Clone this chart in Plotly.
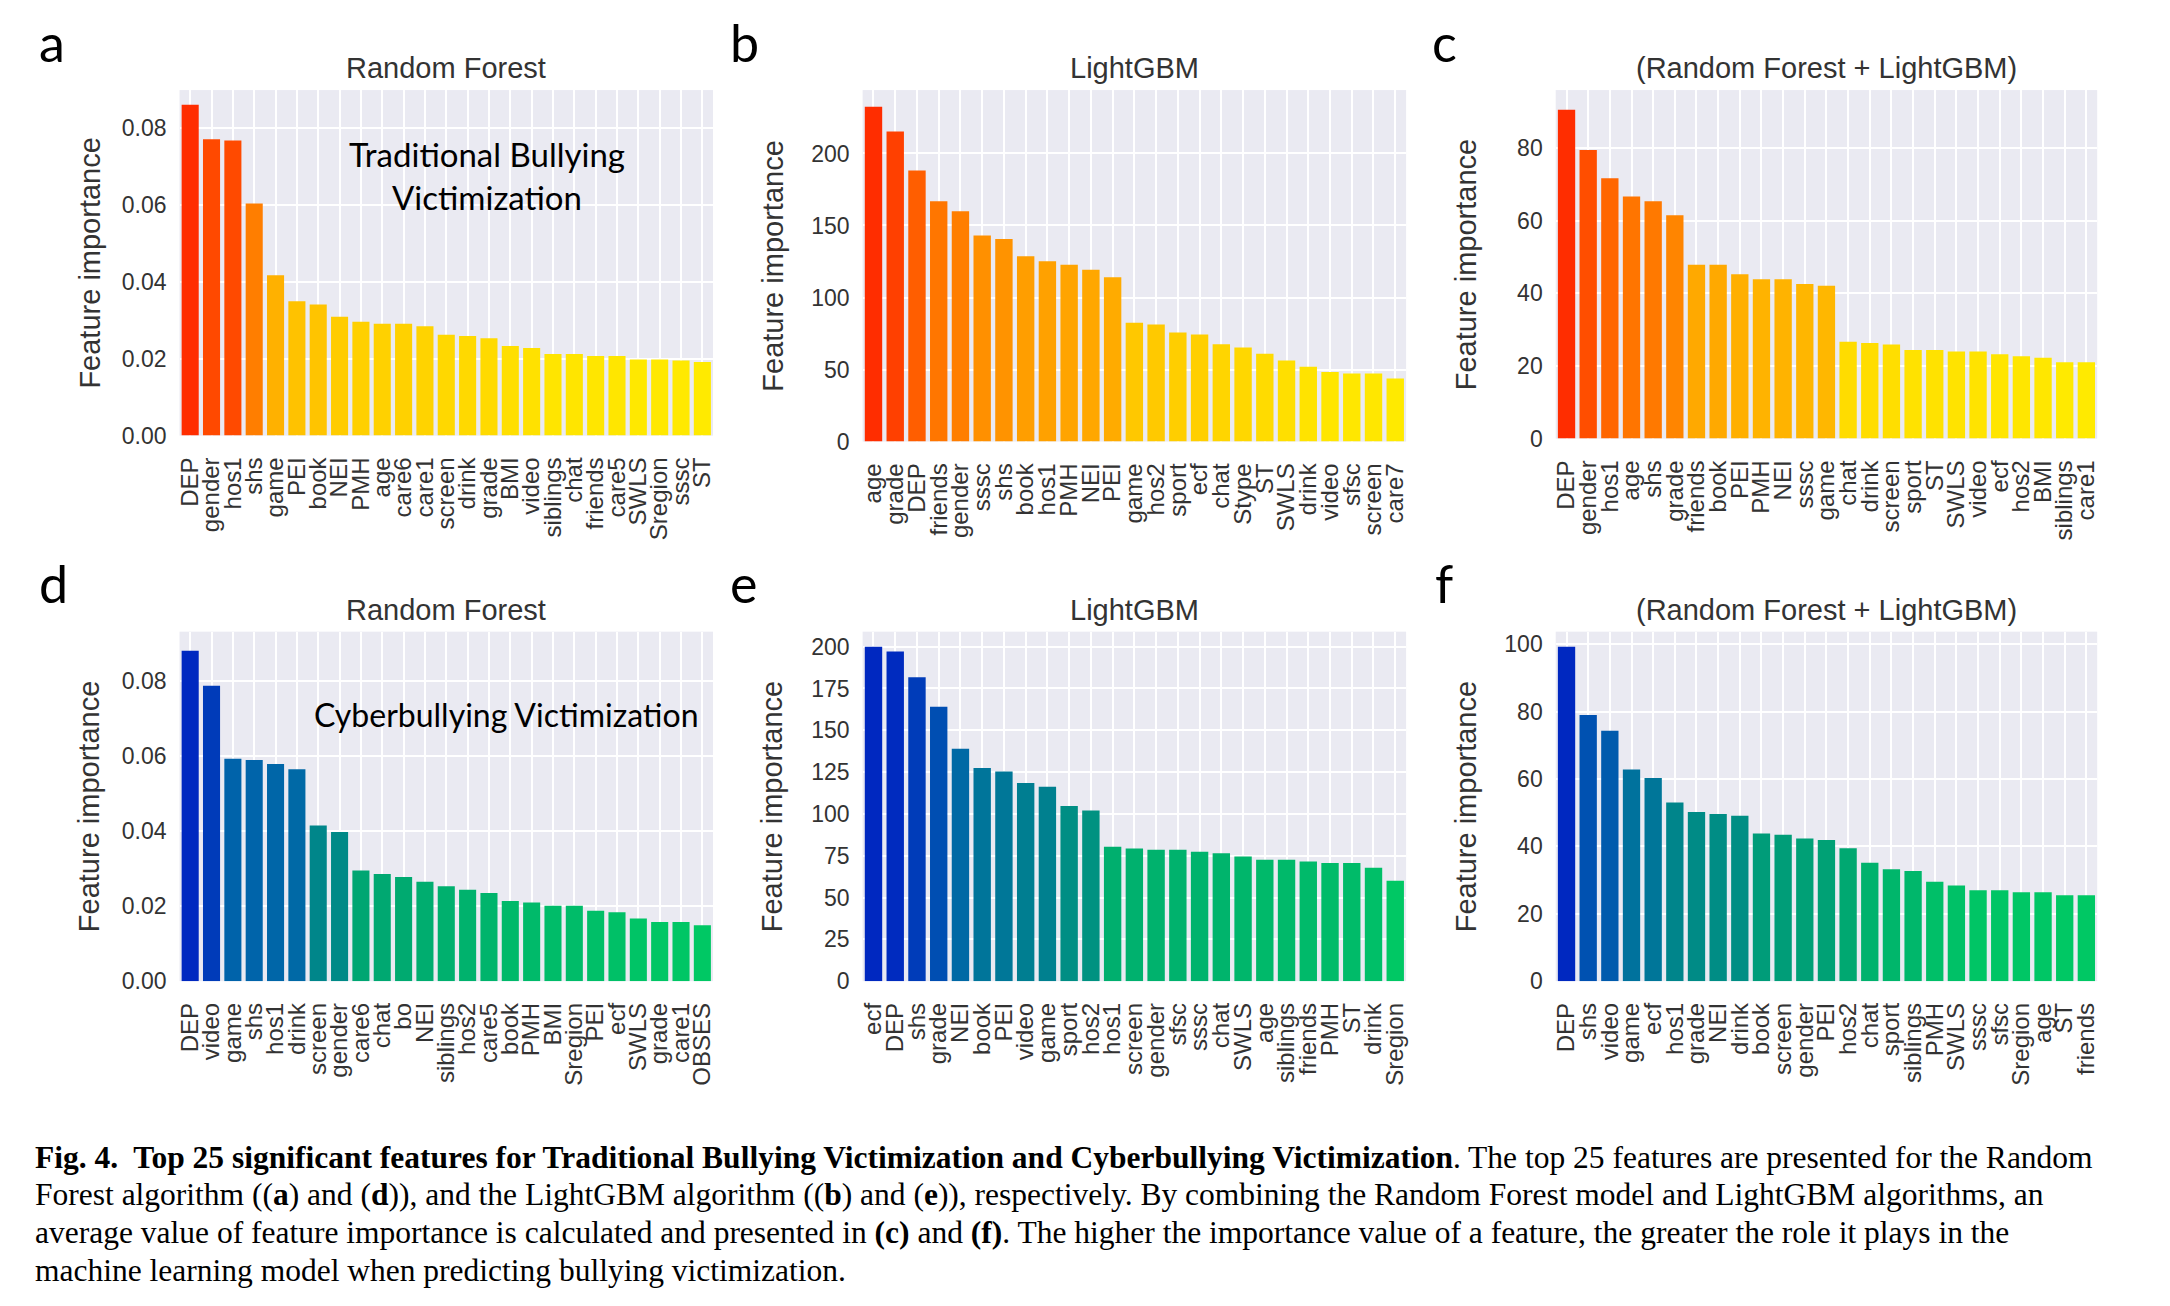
import plotly.graph_objects as go

W, H = 2170, 1306

# ---------------- data ----------------
a_feat = ["DEP", "gender", "hos1", "shs", "game", "PEI", "book", "NEI", "PMH", "age", "care6", "care1",
          "screen", "drink", "grade", "BMI", "video", "siblings", "chat", "friends", "care5", "SWLS",
          "Sregion", "sssc", "ST"]
a_vals = [0.0860, 0.0770, 0.0767, 0.0603, 0.0417, 0.0349, 0.0341, 0.0309, 0.0296, 0.0291, 0.0291, 0.0284,
          0.0262, 0.0259, 0.0253, 0.0233, 0.0228, 0.0212, 0.0212, 0.0207, 0.0207, 0.0198, 0.0198, 0.0195, 0.0191]

b_feat = ["age", "grade", "DEP", "friends", "gender", "sssc", "shs", "book", "hos1", "PMH", "NEI", "PEI",
          "game", "hos2", "sport", "ecf", "chat", "Stype", "ST", "SWLS", "drink", "video", "sfsc", "screen", "care7"]
b_vals = [232.4, 215.3, 188.1, 166.8, 159.9, 143.1, 140.6, 128.7, 125.2, 122.8, 119.3, 114.1,
          82.4, 81.2, 75.7, 74.3, 67.6, 65.3, 60.9, 56.2, 52.0, 48.3, 47.3, 47.3, 43.8]

c_feat = ["DEP", "gender", "hos1", "age", "shs", "grade", "friends", "book", "PEI", "PMH", "NEI", "sssc",
          "game", "chat", "drink", "screen", "sport", "ST", "SWLS", "video", "ecf", "hos2", "BMI", "siblings", "care1"]
c_vals = [90.6, 79.5, 71.7, 66.7, 65.4, 61.5, 47.9, 47.9, 45.3, 43.9, 43.9, 42.6,
          42.1, 26.7, 26.3, 25.9, 24.4, 24.4, 24.0, 24.0, 23.2, 22.7, 22.3, 21.0, 21.0]

d_feat = ["DEP", "video", "game", "shs", "hos1", "drink", "screen", "gender", "care6", "chat", "bo", "NEI",
          "siblings", "hos2", "care5", "book", "PMH", "BMI", "Sregion", "PEI", "ecf", "SWLS", "grade", "care1", "OBSES"]
d_vals = [0.0881, 0.0788, 0.0593, 0.0590, 0.0579, 0.0565, 0.0415, 0.0398, 0.0295, 0.0286, 0.0278, 0.0265,
          0.0253, 0.0244, 0.0235, 0.0214, 0.0210, 0.0201, 0.0201, 0.0188, 0.0184, 0.0167, 0.0158, 0.0158, 0.0149]

e_feat = ["ecf", "DEP", "shs", "grade", "NEI", "book", "PEI", "video", "game", "sport", "hos2", "hos1",
          "screen", "gender", "sfsc", "sssc", "chat", "SWLS", "age", "siblings", "friends", "PMH", "ST", "drink", "Sregion"]
e_vals = [200.0, 197.2, 181.7, 164.1, 138.9, 127.4, 125.4, 118.5, 116.3, 104.8, 102.0, 80.4,
          79.3, 78.5, 78.5, 77.4, 76.5, 74.6, 72.6, 72.6, 71.5, 70.7, 70.7, 67.8, 60.0]

f_feat = ["DEP", "shs", "video", "game", "ecf", "hos1", "grade", "NEI", "drink", "book", "screen", "gender",
          "PEI", "hos2", "chat", "sport", "siblings", "PMH", "SWLS", "sssc", "sfsc", "Sregion", "age", "ST", "friends"]
f_vals = [99.2, 79.0, 74.3, 62.8, 60.3, 53.0, 50.2, 49.6, 49.1, 43.8, 43.4, 42.3,
          41.9, 39.4, 35.1, 33.2, 32.7, 29.5, 28.4, 27.0, 27.0, 26.4, 26.4, 25.5, 25.5]

titles = ["Random Forest", "LightGBM", "(Random Forest + LightGBM)"] * 2
letters = ["a", "b", "c", "d", "e", "f"]
y_tickvals = [
    [0, 0.02, 0.04, 0.06, 0.08],
    [0, 50, 100, 150, 200],
    [0, 20, 40, 60, 80],
    [0, 0.02, 0.04, 0.06, 0.08],
    [0, 25, 50, 75, 100, 125, 150, 175, 200],
    [0, 20, 40, 60, 80, 100],
]
y_ranges = [[0, 0.0898], [0, 244], [0, 96], [0, 0.0932], [0, 209], [0, 103.7]]
y_formats = [".2f", "d", "d", ".2f", "d", "d"]

# ---------------- styling / layout ----------------
warm = [[0, "rgb(255,234,0)"], [0.5, "rgb(255,150,0)"], [1, "rgb(255,45,0)"]]
cool = [[0, "rgb(0,200,100)"], [0.2, "rgb(0,166,114)"], [0.35, "rgb(0,136,136)"],
        [0.6, "rgb(0,100,170)"], [1, "rgb(0,40,192)"]]

# pixel geometry of each plot area: (left, right, top, bottom)
boxes = [
    (176, 711, 91, 440),
    (861, 1406, 91, 446),
    (1556, 2099, 91, 443),
    (176, 711, 638, 991),
    (861, 1406, 638, 991),
    (1556, 2099, 638, 991),
]
letter_pos = [(33, 42), (726, 42), (1430, 42), (33, 589), (726, 589), (1433, 589)]
title_y = [69, 69, 69, 616, 616, 616]
ylabel_dx = 90

feats = [a_feat, b_feat, c_feat, d_feat, e_feat, f_feat]
vals = [a_vals, b_vals, c_vals, d_vals, e_vals, f_vals]
scales = [warm, warm, warm, cool, cool, cool]

TXT = "#333333"
SANS = "Liberation Sans, Arial, sans-serif"
CAL = "Lato, Carlito, Open Sans, sans-serif"

fig = go.Figure()
annotations = []
layout = {}

for i in range(6):
    n = "" if i == 0 else str(i + 1)
    L, R, T, B = boxes[i]
    fig.add_trace(go.Bar(
        x=feats[i], y=vals[i],
        xaxis="x" + n, yaxis="y" + n,
        marker=dict(color=vals[i], colorscale=scales[i], cmin=min(vals[i]), cmax=max(vals[i]),
                    line=dict(width=0)),
        showlegend=False,
    ))
    layout["xaxis" + n] = dict(
        domain=[L / W, R / W], anchor="y" + n,
        type="category", tickangle=-90,
        tickmode="array", tickvals=feats[i], ticktext=feats[i],
        tickfont=dict(family=SANS, size=24, color=TXT),
        showgrid=True, gridcolor="white", gridwidth=2,
        showline=False, zeroline=False, ticks="", ticklabelstandoff=16,
    )
    layout["yaxis" + n] = dict(
        domain=[1 - B / H, 1 - T / H], anchor="x" + n,
        range=y_ranges[i], tickvals=y_tickvals[i], tickformat=y_formats[i],
        tickfont=dict(family=SANS, size=23, color=TXT),
        showgrid=True, gridcolor="white", gridwidth=2,
        showline=False, zeroline=False, ticks="", ticklabelstandoff=12,
    )
    # subplot title
    annotations.append(dict(
        text=titles[i], x=(L + R) / 2 / W, y=1 - title_y[i] / H, xref="paper", yref="paper",
        xanchor="center", yanchor="middle", showarrow=False,
        font=dict(family=SANS, size=29, color=TXT),
    ))
    # y axis label
    annotations.append(dict(
        text="Feature importance", x=(L - ylabel_dx) / W, y=1 - (T + B) / 2 / H,
        xref="paper", yref="paper", xanchor="center", yanchor="middle", textangle=-90,
        showarrow=False, font=dict(family=SANS, size=29, color=TXT),
    ))
    # panel letter
    lx, ly = letter_pos[i]
    annotations.append(dict(
        text=letters[i], x=lx / W, y=1 - ly / H, xref="paper", yref="paper",
        xanchor="left", yanchor="middle", showarrow=False,
        font=dict(family=CAL, size=52, color="black"),
    ))

# in-plot labels
annotations.append(dict(
    text="Traditional Bullying<br>Victimization", x=484 / W, y=1 - 177 / H,
    xref="paper", yref="paper", xanchor="center", yanchor="middle", showarrow=False,
    font=dict(family=CAL, size=33, color="black"),
))
annotations.append(dict(
    text="Cyberbullying Victimization", x=504 / W, y=1 - 722 / H,
    xref="paper", yref="paper", xanchor="center", yanchor="middle", showarrow=False,
    font=dict(family=CAL, size=32, color="black"),
))

# caption
caption_lines = [
    "<b>Fig. 4.  Top 25 significant features for Traditional Bullying Victimization and Cyberbullying Victimization</b>. "
    "The top 25 features are presented for the Random",
    "Forest algorithm ((<b>a</b>) and (<b>d</b>)), and the LightGBM algorithm ((<b>b</b>) and (<b>e</b>)), "
    "respectively. By combining the Random Forest model and LightGBM algorithms, an",
    "average value of feature importance is calculated and presented in <b>(c)</b> and <b>(f)</b>. "
    "The higher the importance value of a feature, the greater the role it plays in the",
    "machine learning model when predicting bullying victimization.",
]
caption_y = [1169, 1207, 1245, 1283]
for line, cy in zip(caption_lines, caption_y):
    annotations.append(dict(
        text=line, x=29 / W, y=1 - cy / H, xref="paper", yref="paper",
        xanchor="left", yanchor="middle", showarrow=False,
        font=dict(family="Liberation Serif, Times New Roman, serif", size=31.5, color="black"),
    ))

fig.update_layout(
    width=W, height=H, margin=dict(l=0, r=0, t=0, b=0),
    paper_bgcolor="white", plot_bgcolor="#EAEAF2",
    bargap=0.2, annotations=annotations, **layout,
)

fig.write_html("out.html")
